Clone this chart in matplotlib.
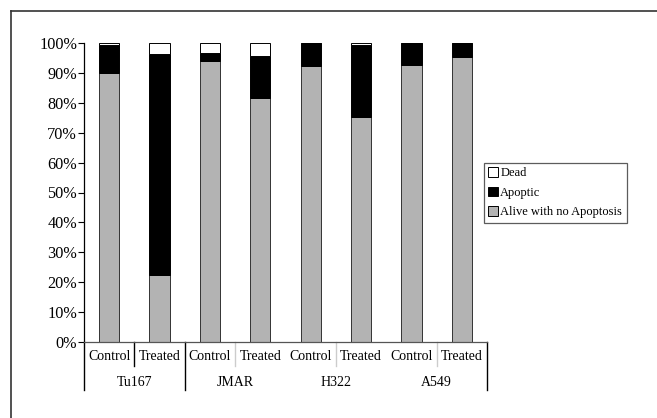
import matplotlib
matplotlib.use("Agg")
import matplotlib.pyplot as plt
from matplotlib.lines import Line2D
from matplotlib.patches import Patch
import matplotlib.transforms as mtransforms

plt.rcParams['font.family'] = ['Liberation Serif', 'DejaVu Serif']

# data (fractions of cells)
groups = ["Tu167", "JMAR", "H322", "A549"]
conditions = ["Control", "Treated"]
alive = [0.901, 0.224, 0.941, 0.815, 0.923, 0.752, 0.926, 0.952]
apoptic = [0.092, 0.739, 0.025, 0.142, 0.077, 0.241, 0.074, 0.048]
dead = [0.007, 0.037, 0.034, 0.043, 0.0, 0.007, 0.0, 0.0]
yticks = [0, 0.1, 0.2, 0.3, 0.4, 0.5, 0.6, 0.7, 0.8, 0.9, 1.0]
ylabels = ["0%", "10%", "20%", "30%", "40%", "50%", "60%", "70%", "80%", "90%", "100%"]

W, H = 657, 418
fig = plt.figure(figsize=(W / 100, H / 100), dpi=100)
ax = fig.add_axes([84 / W, (H - 342) / H, 403 / W, 299 / H])

x = list(range(len(alive)))
bw = 0.4
ax.bar(x, alive, bw, color="#b3b3b3", edgecolor="#333333", linewidth=0.7)
bottom2 = alive
ax.bar(x, apoptic, bw, bottom=bottom2, color="black", edgecolor="black", linewidth=0.7)
bottom3 = [a + b for a, b in zip(alive, apoptic)]
ax.bar(x, dead, bw, bottom=bottom3, color="white", edgecolor="black", linewidth=0.7)

ax.set_xlim(-0.5, len(alive) - 0.5)
ax.set_ylim(0, 1)
ax.set_yticks(yticks)
ax.set_yticklabels(ylabels, fontsize=11.7)
ax.tick_params(axis="y", direction="out", length=4, width=0.8, pad=1)
ax.set_xticks([])
for s in ["top", "right"]:
    ax.spines[s].set_visible(False)
ax.spines["left"].set_linewidth(0.9)
ax.spines["bottom"].set_linewidth(0.9)
ax.spines["bottom"].set_color("#555555")

# category labels and separators below the axis
trans = mtransforms.blended_transform_factory(ax.transData, ax.transAxes)
lab_y = -15 / 299
grp_y = -40 / 299
for i in x:
    ax.text(i, lab_y, conditions[i % 2], transform=trans, ha="center", va="center", fontsize=10)
for g, name in enumerate(groups):
    ax.text(2 * g + 0.5, grp_y, name, transform=trans, ha="center", va="center", fontsize=10)

# group boundaries
for g in range(len(groups) + 1):
    xb = 2 * g - 0.5
    if g in (2, 3):
        continue
    ax.add_line(Line2D([xb, xb], [0, -48 / 299], transform=trans, color="black",
                       lw=1.0, clip_on=False))
# condition boundaries inside groups
for g in range(len(groups)):
    xb = 2 * g + 0.5
    col = "black" if g == 0 else "#cccccc"
    ax.add_line(Line2D([xb, xb], [0, -24 / 299], transform=trans, color=col,
                       lw=1.0, clip_on=False))

handles = [Patch(facecolor="white", edgecolor="black", lw=0.7, label="Dead"),
           Patch(facecolor="black", edgecolor="black", lw=0.7, label="Apoptic"),
           Patch(facecolor="#b3b3b3", edgecolor="black", lw=0.7, label="Alive with no Apoptosis")]
leg = fig.legend(handles=handles, loc="upper left", bbox_to_anchor=(484 / W, 1 - 163 / H),
                 fontsize=9, frameon=True, fancybox=False, handlelength=0.75,
                 handleheight=0.75, handletextpad=0.2, borderpad=0.35, labelspacing=0.6,
                 borderaxespad=0)
leg.get_frame().set_edgecolor("#333333")
leg.get_frame().set_linewidth(0.9)

# outer frame (only top and left edges visible)
fig.add_artist(Line2D([10.7 / W, 1.0], [1 - 10.7 / H, 1 - 10.7 / H], transform=fig.transFigure,
                      color="#333333", lw=1.2))
fig.add_artist(Line2D([10.7 / W, 10.7 / W], [0, 1 - 10.7 / H], transform=fig.transFigure,
                      color="#333333", lw=1.2))

fig.savefig("out.png", dpi=100)
